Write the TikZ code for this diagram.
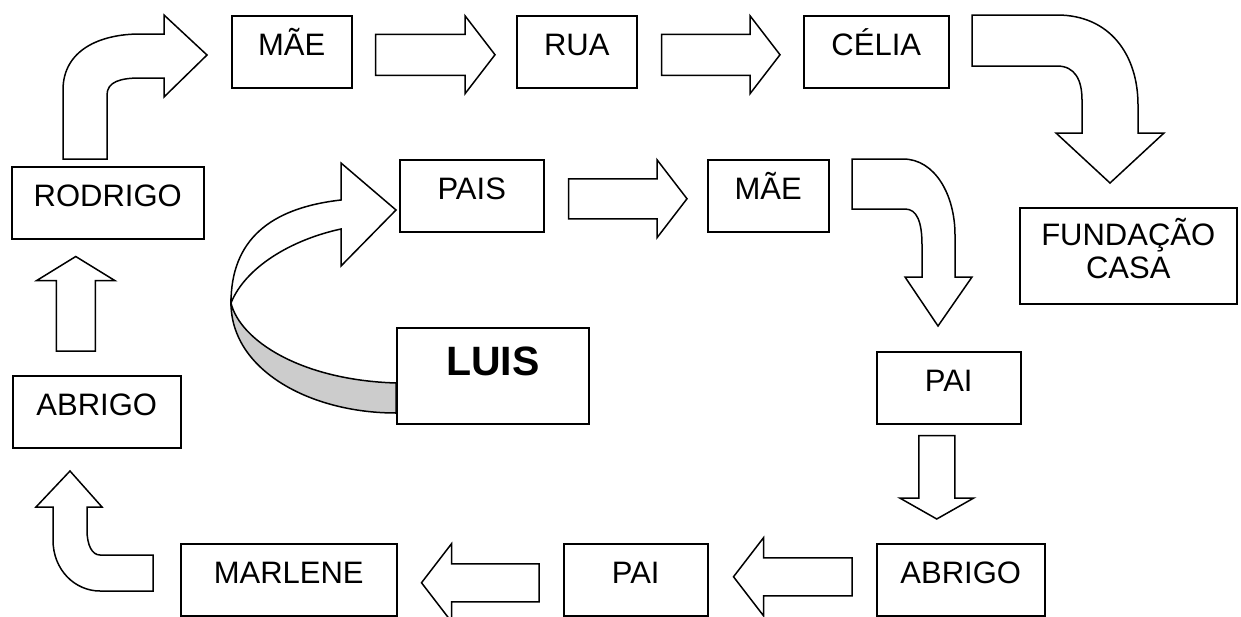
\documentclass[tikz,border=0pt]{standalone}
\usepackage{fontspec}
\setmainfont{Liberation Sans}
\usetikzlibrary{calc}

\definecolor{bandgray}{gray}{0.8}

\tikzset{
	box/.style={draw, line width=1.5pt, anchor=north west, inner sep=0pt, text height=40pt, text depth=32pt, font=\fontsize{31}{33}\selectfont},
	blockarrow/.style={draw, fill=white, line width=1.5pt, line join=miter},
}

% straight block arrow: start, tip, half shaft, half head, head length
\newcommand{\bigarrow}[5]{%
	\coordinate (ba-s) at #1;
	\coordinate (ba-t) at #2;
	\coordinate (ba-h) at ($(ba-t)!#5!(ba-s)$);
	\draw[blockarrow] ($(ba-s)!#3!90:(ba-t)$) -- ($(ba-h)!#3!90:(ba-t)$) -- ($(ba-h)!#4!90:(ba-t)$) -- (ba-t) -- ($(ba-h)!#4!-90:(ba-t)$) -- ($(ba-h)!#3!-90:(ba-t)$) -- ($(ba-s)!#3!-90:(ba-t)$) -- cycle;
}

\begin{document}
\begin{tikzpicture}[x=1pt, y=-1pt]
	\useasboundingbox (0,0) rectangle (1241,616);

	% curved arrow from LUIS
	\draw[line width=1.5pt, fill=bandgray] (231,303) .. controls (240,340) and (300,380) .. (396,383) -- (396,413) .. controls (310,413) and (231,370) .. (231,303) -- cycle;
	\draw[blockarrow] (231,303) .. controls (231,240) and (270,208) .. (341,200) -- (341,163) -- (396,210) -- (341,266) -- (341,229) .. controls (290,240) and (245,268) .. (231,303) -- cycle;

	% bent arrows
	\draw[blockarrow] (63,159) -- (63,90) .. controls (63,50) and (100,34) .. (140,34) -- (164,34) -- (164,15) -- (207,55) -- (164,97) -- (164,78) -- (140,78) .. controls (120,78) and (107,82) .. (107,95) -- (107,159) -- cycle;
	\draw[blockarrow] (972,15) -- (1057,15) .. controls (1110,15) and (1138,55) .. (1138,105) -- (1138,133) -- (1164,133) -- (1110,183) -- (1056,133) -- (1082,133) -- (1082,100) .. controls (1082,80) and (1075,66) .. (1057,66) -- (972,66) -- cycle;
	\draw[blockarrow] (852,159) -- (903,159) .. controls (935,159) and (955,195) .. (955,235) -- (955,277) -- (972,277) -- (938,326) -- (905,277) -- (922,277) -- (922,245) .. controls (922,222) and (917,209) .. (905,209) -- (852,209) -- cycle;
	\draw[blockarrow] (153,555) -- (100,555) .. controls (92,555) and (87,545) .. (87,530) -- (87,507) -- (102,507) -- (70,471) -- (36,507) -- (53,507) -- (53,540) .. controls (53,570) and (75,591) .. (100,591) -- (153,591) -- cycle;

	% boxes
	\node[box, minimum width=120pt] (mae1) at (231,15) {MÃE};
	\node[box, minimum width=120pt] (rua) at (516,15) {RUA};
	\node[box, minimum width=145pt] (celia) at (803,15) {CÉLIA};
	\node[box, minimum width=192pt] (rodrigo) at (11,166) {RODRIGO};
	\node[box, minimum width=144pt] (pais) at (399,159) {PAIS};
	\node[box, minimum width=121pt] (mae2) at (707,159) {MÃE};
	\node[box, minimum width=217pt, text height=38pt, text depth=58pt] (fundacao) at (1019,207) {\begin{tabular}[t]{@{}c@{}}FUNDAÇÃO\\CASA\end{tabular}};
	\node[box, minimum width=192pt, text height=48pt, text depth=48pt, font=\fontsize{41}{44}\selectfont\bfseries] (luis) at (396,327) {LUIS};
	\node[box, minimum width=144pt] (pai1) at (876,351) {PAI};
	\node[box, minimum width=168pt] (abrigo1) at (876,543) {ABRIGO};
	\node[box, minimum width=144pt] (pai2) at (563,543) {PAI};
	\node[box, minimum width=216pt] (marlene) at (180,543) {MARLENE};
	\node[box, minimum width=168pt] (abrigo2) at (12,375) {ABRIGO};

	% straight arrows
	\bigarrow{($(mae1.east)+(23,3)$)}{($(rua.west)+(-21,3)$)}{20.5pt}{39pt}{30pt}
	\bigarrow{($(rua.east)+(24,3)$)}{($(celia.west)+(-23,3)$)}{20.5pt}{39pt}{30pt}
	\bigarrow{($(pais.east)+(24,3)$)}{($(mae2.west)+(-20,3)$)}{20pt}{39pt}{30pt}
	\bigarrow{($(pai1.south)+(-12,11)$)}{($(abrigo1.north)+(-24,-24)$)}{18pt}{37pt}{21pt}
	\bigarrow{($(abrigo1.west)+(-24,-3)$)}{($(pai2.east)+(25,-3)$)}{19pt}{39pt}{30pt}
	\bigarrow{($(pai2.west)+(-24,3)$)}{($(marlene.east)+(24,3)$)}{19pt}{39pt}{30pt}
	\bigarrow{($(abrigo2.north)+(-21,-24)$)}{($(rodrigo.south)+(-32,17)$)}{19.5pt}{39pt}{24pt}

\end{tikzpicture}
\end{document}
